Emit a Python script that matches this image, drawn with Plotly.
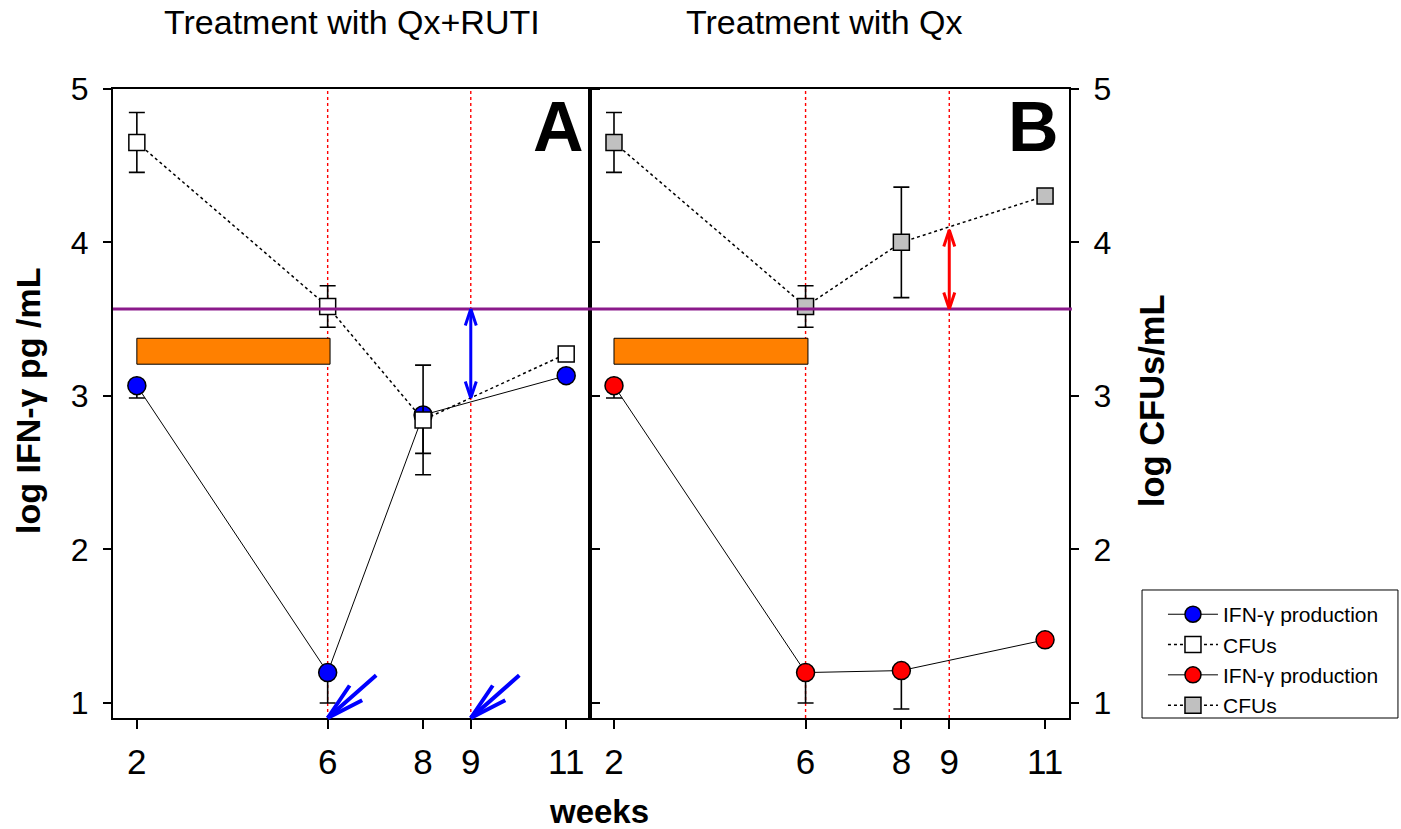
import numpy as np
import plotly.graph_objects as go

# ---------------- data ----------------
weeks = [2, 6, 8, 11]
tick_weeks = [2, 6, 8, 9, 11]
y_ticks = [1, 2, 3, 4, 5]

ifn_A = [3.067, 1.198, 2.876, 3.132]
ifn_A_err_minus = [0.08, 0.198, 0.25, 0.0]
cfu_A = [4.652, 3.583, 2.844, 3.274]
cfu_A_err = [0.195, 0.135, 0.357, 0.02]

ifn_B = [3.067, 1.198, 1.211, 1.411]
ifn_B_err_minus = [0.08, 0.198, 0.25, 0.0]
cfu_B = [4.652, 3.583, 4.001, 4.303]
cfu_B_err = [0.195, 0.135, 0.36, 0.02]

threshold = 3.567            # purple reference line
treat_period = [2, 6.05]     # orange bar (weeks)
treat_bar_y = [3.207, 3.376]
event_weeks = [6, 9]         # red dotted lines
ruti_weeks = [6, 9]          # blue arrows (panel A)
gap_week = 9                 # double arrows

FONT = "Arial, Liberation Sans, sans-serif"
BLUE = "#0000FF"
RED = "#FF0000"
PURPLE = "#8B1A8B"
ORANGE = "#FF8000"

fig = go.Figure()

def add_panel(ifn, ifn_em, cfu, cfu_e, circ_color, sq_color, xa, ya, group):
    fig.add_trace(go.Scatter(
        x=weeks, y=ifn, mode="lines+markers", name="IFN-γ production",
        legendgroup=group, xaxis=xa, yaxis=ya,
        line=dict(color="black", width=1),
        marker=dict(symbol="circle", size=18, color=circ_color,
                    line=dict(color="black", width=1.5)),
        error_y=dict(type="data", symmetric=False, array=[0]*len(ifn),
                     arrayminus=ifn_em, color="black", thickness=1.6, width=8),
    ))
    fig.add_trace(go.Scatter(
        x=weeks, y=cfu, mode="lines+markers", name="CFUs",
        legendgroup=group, xaxis=xa, yaxis=ya,
        line=dict(color="black", width=1.5, dash="dot"),
        marker=dict(symbol="square", size=16, color=sq_color,
                    line=dict(color="black", width=1.5)),
        error_y=dict(type="data", array=cfu_e, color="black", thickness=1.6, width=8),
    ))

add_panel(ifn_A, ifn_A_err_minus, cfu_A, cfu_A_err, BLUE, "white", "x", "y", "A")
add_panel(ifn_B, ifn_B_err_minus, cfu_B, cfu_B_err, RED, "#C0C0C0", "x2", "y2", "B")

shapes = []
for xr, yr in (("x", "y"), ("x2", "y2")):
    for w in event_weeks:
        shapes.append(dict(type="line", xref=xr, yref=f"{yr} domain", x0=w, x1=w, y0=0, y1=1,
                           line=dict(color=RED, width=1.4, dash="dot"), layer="below"))
    shapes.append(dict(type="rect", xref=xr, yref=yr, x0=treat_period[0], x1=treat_period[1],
                       y0=treat_bar_y[0], y1=treat_bar_y[1], fillcolor=ORANGE,
                       line=dict(color="black", width=1), layer="below"))
shapes.append(dict(type="line", xref="paper", yref="y", x0=0, x1=1.003, y0=threshold, y1=threshold,
                   line=dict(color=PURPLE, width=3)))
# legend frame
shapes.append(dict(type="rect", xref="paper", yref="paper", x0=1.0764, x1=1.3441, y0=0.0, y1=0.2035,
                   line=dict(color="black", width=1), fillcolor="rgba(0,0,0,0)"))

annotations = []

def seg(xref, yref, x, y, ax, ay, color, width, axref="pixel", ayref="pixel"):
    annotations.append(dict(xref=xref, yref=yref, x=x, y=y, ax=ax, ay=ay, axref=axref, ayref=ayref,
                            showarrow=True, arrowhead=0, arrowwidth=width, arrowcolor=color,
                            text="", standoff=0, startstandoff=0))

def double_arrow(xr, yr, x, y_low, y_high, color):
    seg(xr, yr, x, y_high, x, y_low, color, 3, axref=xr, ayref=yr)
    for dx in (-6, 6):
        seg(xr, yr, x, y_high, dx, 18, color, 3)
        seg(xr, yr, x, y_low, dx, -18, color, 3)

y_cfu_A_gap = float(np.interp(gap_week, weeks, cfu_A))
y_cfu_B_gap = float(np.interp(gap_week, weeks, cfu_B))
double_arrow("x", "y", gap_week, y_cfu_A_gap, threshold, BLUE)
double_arrow("x2", "y2", gap_week, threshold, y_cfu_B_gap - 0.02, RED)

for w in ruti_weeks:
    for ax, ay in ((50, -44), (23, -34), (36, -18.5)):
        seg("x", "y domain", w, 0, ax, ay, BLUE, 4)

def text(x, y, s, size, xref="paper", yref="paper", bold=False, angle=0, xanchor="center", yanchor="middle"):
    annotations.append(dict(xref=xref, yref=yref, x=x, y=y, text=f"<b>{s}</b>" if bold else s,
                            showarrow=False, textangle=angle, xanchor=xanchor, yanchor=yanchor,
                            font=dict(family=FONT, size=size, color="black")))

text(0.5, 1.107, "Treatment with Qx+RUTI", 34, xref="x domain")
text(0.488, 1.107, "Treatment with Qx", 34, xref="x2 domain")
text(0.991, 0.94, "A", 70, xref="x domain", yref="y domain", bold=True, xanchor="right")
text(0.983, 0.94, "B", 70, xref="x2 domain", yref="y2 domain", bold=True, xanchor="right")
text(-0.089, 0.504, "log IFN-γ pg /mL", 34, bold=True, angle=-90)
text(1.087, 0.504, "log CFUs/mL", 34.5, bold=True, angle=-90)
text(0.508, -0.149, "weeks", 33, bold=True)

axis_common = dict(showline=True, linecolor="black", linewidth=2, showgrid=False, zeroline=False,
                   ticks="outside", tickcolor="black", tickwidth=2)
xcommon = dict(axis_common, range=[1.5, 11.5], tickvals=tick_weeks, ticklen=9, mirror=True,
               ticklabelstandoff=3,
               tickfont=dict(family=FONT, size=35, color="black"))
ycommon = dict(axis_common, range=[0.902, 5.0], tickvals=y_ticks, ticklen=8,
               ticklabelstandoff=8,
               tickfont=dict(family=FONT, size=32, color="black"))

fig.update_layout(
    width=1401, height=829,
    margin=dict(l=113, r=332, t=89, b=111),
    paper_bgcolor="white", plot_bgcolor="white",
    xaxis=dict(xcommon, domain=[0, 0.499], anchor="y"),
    xaxis2=dict(xcommon, domain=[0.499, 1.0], anchor="y2"),
    yaxis=dict(ycommon, anchor="x", mirror="allticks"),
    yaxis2=dict(ycommon, anchor="x2", side="right", mirror=True),
    shapes=shapes,
    annotations=annotations,
    showlegend=True,
    legend=dict(x=1.0983, y=0.197, xanchor="left", yanchor="top",
                borderwidth=0, bgcolor="rgba(0,0,0,0)",
                font=dict(family=FONT, size=21, color="black"),
                tracegroupgap=0, itemwidth=50),
    font=dict(family=FONT),
)

fig.write_html("out.html", config={"displayModeBar": False},
               post_script="document.body.style.margin='0';")
